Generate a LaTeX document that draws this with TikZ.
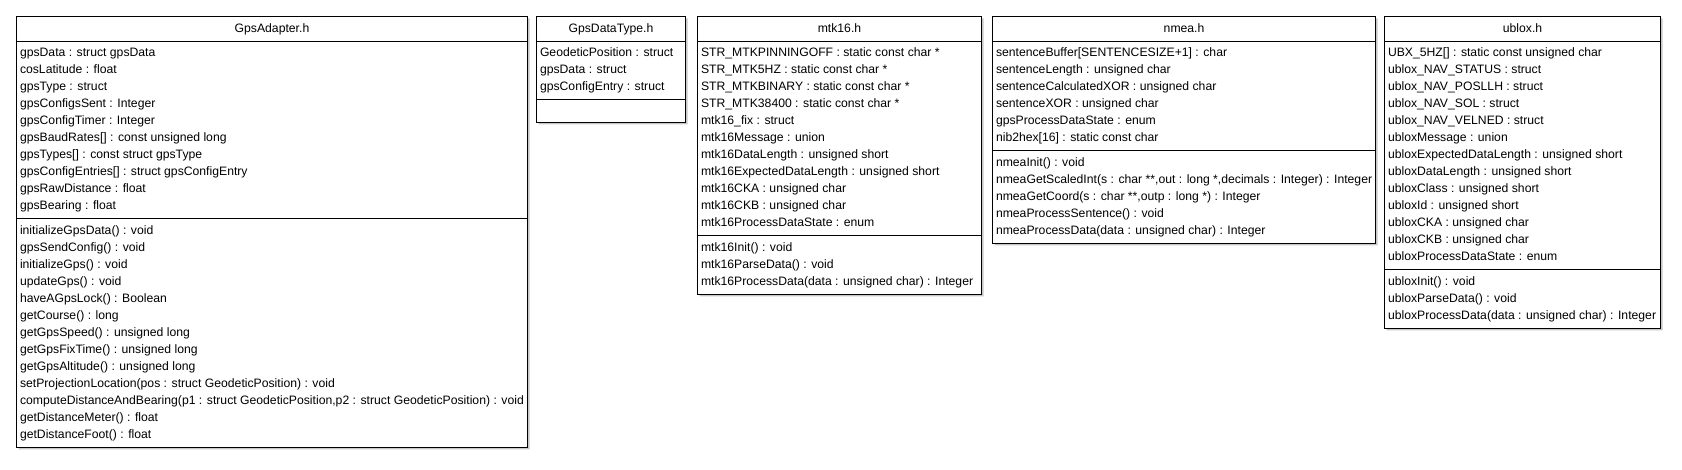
\documentclass[tikz,border=0pt]{standalone}
\usepackage{fontspec}
\setmainfont{Liberation Sans}
\usepackage{tikz}
\usetikzlibrary{shapes.multipart}
\usetikzlibrary{shadows}

\newcommand{\umlrow}[1]{\rule[-5pt]{0pt}{17pt}#1}

\begin{document}
\begin{tikzpicture}[x=1pt,y=-1pt]
\tikzstyle{umlclass} = [rectangle split, rectangle split parts=3, draw, line width=1pt, fill=white,
    anchor=north west, align=left, rectangle split part align={center,left,left},
    inner xsep=3.5pt, inner ysep=3.3pt, font=\fontsize{12.2pt}{17pt}\selectfont,
    drop shadow={shadow xshift=2pt,shadow yshift=-2pt,fill=black!22,opacity=1}]
\useasboundingbox (0,0) rectangle (1682,470);

\node[umlclass, minimum width=511pt](adapter) at (16,16){\umlrow{GpsAdapter.h}
    \nodepart{two}\umlrow{gpsData : struct gpsData}\\
    \umlrow{cosLatitude : float}\\
    \umlrow{gpsType : struct}\\
    \umlrow{gpsConfigsSent : Integer}\\
    \umlrow{gpsConfigTimer : Integer}\\
    \umlrow{gpsBaudRates[] : const unsigned long}\\
    \umlrow{gpsTypes[] : const struct gpsType}\\
    \umlrow{gpsConfigEntries[] : struct gpsConfigEntry}\\
    \umlrow{gpsRawDistance : float}\\
    \umlrow{gpsBearing : float}
    \nodepart{three}\umlrow{initializeGpsData() : void}\\
    \umlrow{gpsSendConfig() : void}\\
    \umlrow{initializeGps() : void}\\
    \umlrow{updateGps() : void}\\
    \umlrow{haveAGpsLock() : Boolean}\\
    \umlrow{getCourse() : long}\\
    \umlrow{getGpsSpeed() : unsigned long}\\
    \umlrow{getGpsFixTime() : unsigned long}\\
    \umlrow{getGpsAltitude() : unsigned long}\\
    \umlrow{setProjectionLocation(pos : struct GeodeticPosition) : void}\\
    \umlrow{computeDistanceAndBearing(p1 : struct GeodeticPosition,p2 : struct GeodeticPosition) : void}\\
    \umlrow{getDistanceMeter() : float}\\
    \umlrow{getDistanceFoot() : float}
    };

\node[umlclass, minimum width=149pt](datatype) at (536,16){\umlrow{GpsDataType.h}
    \nodepart{two}\umlrow{GeodeticPosition : struct}\\
    \umlrow{gpsData : struct}\\
    \umlrow{gpsConfigEntry : struct}
    \nodepart{three}\rule{0pt}{15pt}
    };

\node[umlclass, minimum width=284pt](mtk) at (697,16){\umlrow{mtk16.h}
    \nodepart{two}\umlrow{STR\_MTKPINNINGOFF : static const char *}\\
    \umlrow{STR\_MTK5HZ : static const char *}\\
    \umlrow{STR\_MTKBINARY : static const char *}\\
    \umlrow{STR\_MTK38400 : static const char *}\\
    \umlrow{mtk16\_fix : struct}\\
    \umlrow{mtk16Message : union}\\
    \umlrow{mtk16DataLength : unsigned short}\\
    \umlrow{mtk16ExpectedDataLength : unsigned short}\\
    \umlrow{mtk16CKA : unsigned char}\\
    \umlrow{mtk16CKB : unsigned char}\\
    \umlrow{mtk16ProcessDataState : enum}
    \nodepart{three}\umlrow{mtk16Init() : void}\\
    \umlrow{mtk16ParseData() : void}\\
    \umlrow{mtk16ProcessData(data : unsigned char) : Integer}
    };

\node[umlclass, minimum width=380pt](nmea) at (992,16){\umlrow{nmea.h}
    \nodepart{two}\umlrow{sentenceBuffer[SENTENCESIZE+1] : char}\\
    \umlrow{sentenceLength : unsigned char}\\
    \umlrow{sentenceCalculatedXOR : unsigned char}\\
    \umlrow{sentenceXOR : unsigned char}\\
    \umlrow{gpsProcessDataState : enum}\\
    \umlrow{nib2hex[16] : static const char}
    \nodepart{three}\umlrow{nmeaInit() : void}\\
    \umlrow{nmeaGetScaledInt(s : char **,out : long *,decimals : Integer) : Integer}\\
    \umlrow{nmeaGetCoord(s : char **,outp : long *) : Integer}\\
    \umlrow{nmeaProcessSentence() : void}\\
    \umlrow{nmeaProcessData(data : unsigned char) : Integer}
    };

\node[umlclass, minimum width=276pt](ublox) at (1384,16){\umlrow{ublox.h}
    \nodepart{two}\umlrow{UBX\_5HZ[] : static const unsigned char}\\
    \umlrow{ublox\_NAV\_STATUS : struct}\\
    \umlrow{ublox\_NAV\_POSLLH : struct}\\
    \umlrow{ublox\_NAV\_SOL : struct}\\
    \umlrow{ublox\_NAV\_VELNED : struct}\\
    \umlrow{ubloxMessage : union}\\
    \umlrow{ubloxExpectedDataLength : unsigned short}\\
    \umlrow{ubloxDataLength : unsigned short}\\
    \umlrow{ubloxClass : unsigned short}\\
    \umlrow{ubloxId : unsigned short}\\
    \umlrow{ubloxCKA : unsigned char}\\
    \umlrow{ubloxCKB : unsigned char}\\
    \umlrow{ubloxProcessDataState : enum}
    \nodepart{three}\umlrow{ubloxInit() : void}\\
    \umlrow{ubloxParseData() : void}\\
    \umlrow{ubloxProcessData(data : unsigned char) : Integer}
    };
\end{tikzpicture}
\end{document}
